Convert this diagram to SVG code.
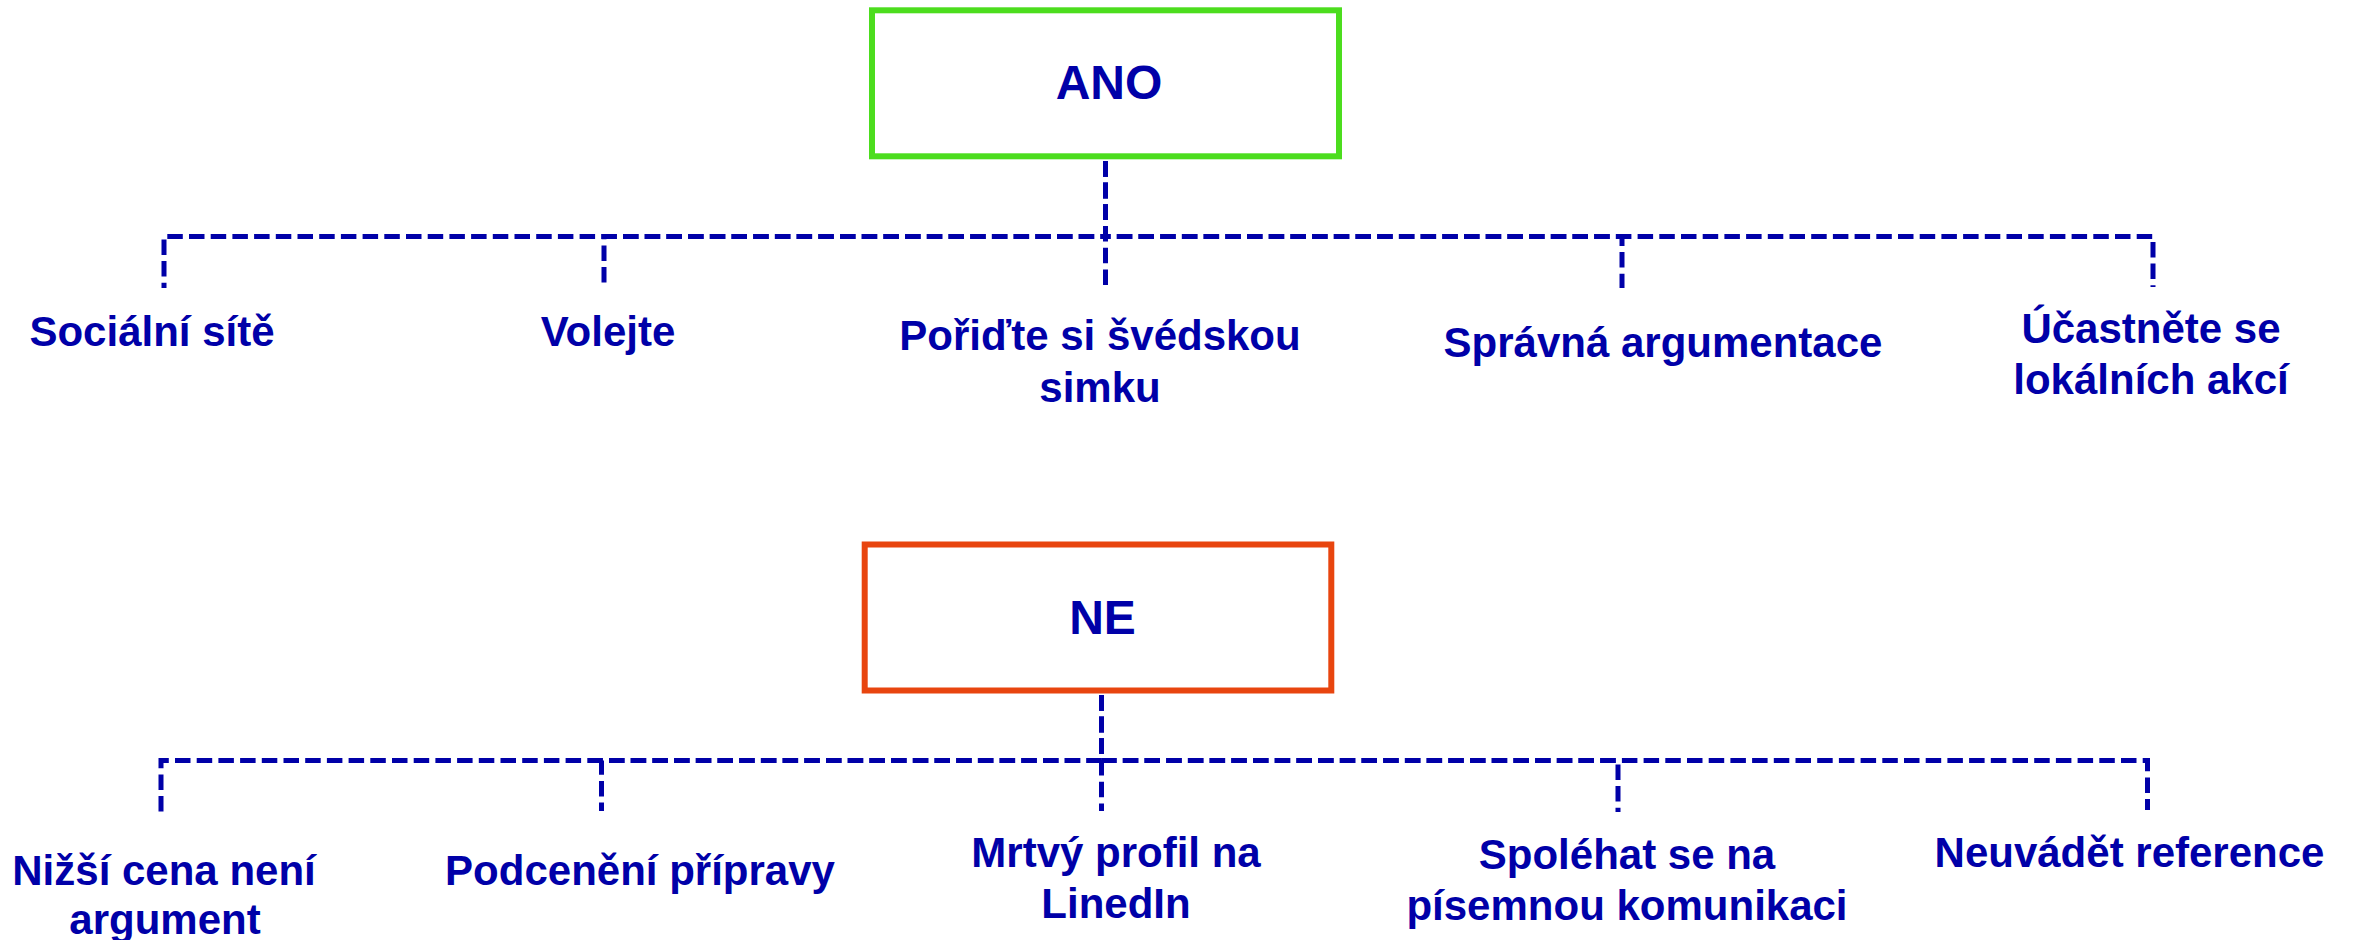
<svg xmlns="http://www.w3.org/2000/svg" width="2354" height="940" viewBox="0 0 2354 940">
<style>
.lbl{font-family:"Liberation Sans",Arial,sans-serif;font-weight:bold;font-size:42px;fill:#0000A8;text-anchor:middle}
.head{font-family:"Liberation Sans",Arial,sans-serif;font-weight:bold;font-size:48px;fill:#0000A8;text-anchor:middle}
.conn{fill:none;stroke:#0000A8;stroke-width:5;stroke-dasharray:15.5 6.2}
</style>
<rect width="2354" height="940" fill="#ffffff"/>
<g id="connectors">
<path class="conn" d="M1105.5,161 V236.5 H164 V288"/>
<path class="conn" d="M1105.5,161 V236.5 H604 V288"/>
<path class="conn" d="M1105.5,161 V288"/>
<path class="conn" d="M1105.5,161 V236.5 H1622 V288"/>
<path class="conn" d="M1105.5,161 V236.5 H2153 V287"/>
<path class="conn" d="M1101.5,695 V760.5 H161 V812"/>
<path class="conn" d="M1101.5,695 V760.5 H601.5 V811"/>
<path class="conn" d="M1101.5,695 V811"/>
<path class="conn" d="M1101.5,695 V760.5 H1618 V812"/>
<path class="conn" d="M1101.5,695 V760.5 H2147.5 V810"/>
</g>
<g id="ano">
<rect x="872" y="10.3" width="467" height="146" fill="#ffffff" stroke="#4CDD1E" stroke-width="6"/>
<text class="head" x="1109" y="99">ANO</text>
</g>
<g id="ne">
<rect x="864.7" y="544.5" width="466.6" height="146" fill="#ffffff" stroke="#E8450F" stroke-width="6"/>
<text class="head" x="1102.5" y="634">NE</text>
</g>
<g id="a1"><text class="lbl" x="152" y="346">Sociální sítě</text></g>
<g id="a2"><text class="lbl" x="608" y="346">Volejte</text></g>
<g id="a3"><text class="lbl" x="1100" y="350">Pořiďte si švédskou</text><text class="lbl" x="1100" y="402">simku</text></g>
<g id="a4"><text class="lbl" x="1663" y="357">Správná argumentace</text></g>
<g id="a5"><text class="lbl" x="2151" y="343">Účastněte se</text><text class="lbl" x="2151" y="394">lokálních akcí</text></g>
<g id="n1"><text class="lbl" x="164" y="885">Nižší cena není</text><text class="lbl" x="165" y="934">argument</text></g>
<g id="n2"><text class="lbl" x="640" y="885">Podcenění přípravy</text></g>
<g id="n3"><text class="lbl" x="1116" y="867">Mrtvý profil na</text><text class="lbl" x="1116" y="918">LinedIn</text></g>
<g id="n4"><text class="lbl" x="1627" y="869">Spoléhat se na</text><text class="lbl" x="1627" y="920">písemnou komunikaci</text></g>
<g id="n5"><text class="lbl" x="2129.5" y="867">Neuvádět reference</text></g>
</svg>
